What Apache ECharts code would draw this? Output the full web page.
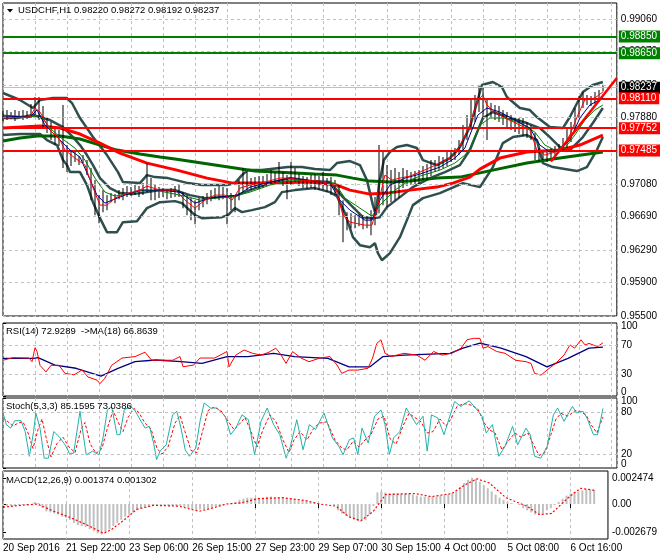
<!DOCTYPE html>
<html><head><meta charset="utf-8">
<script src="https://cdn.jsdelivr.net/npm/echarts@6/dist/echarts.min.js"></script>
<style>html,body{margin:0;padding:0;background:#fff}#c{width:660px;height:560px}</style>
</head><body><div id="c"></div>
<script>
// ---------- data ----------
const symbolName = 'USDCHF,H1';
const lastOHLC = ['0.98220','0.98272','0.98192','0.98237'];
const bidPrice = 0.98237;
const timeTicks = [0,32,64,96,128,160,192,224,256,288];
const timeLabels = ['20 Sep 2016','21 Sep 22:00','23 Sep 06:00','26 Sep 15:00','27 Sep 23:00','29 Sep 07:00','30 Sep 15:00','4 Oct 00:00','5 Oct 08:00','6 Oct 16:00'];
const priceTicks = ['0.95500','0.95900','0.96290','0.96690','0.97080','0.97480','0.97880','0.98270','0.98670','0.99060'];
const greenLevels = [0.98850, 0.98650];
const redLevels = [0.98110, 0.97752, 0.97485];
const rsiTicks = [0, 30, 70, 100];
const rsiLevels = [30, 70];
const stochTicks = [0, 20, 80, 100];
const stochLevels = [20, 80];
const macdTicks = [-0.002679, 0, 0.002474];
const rsiTitle = 'RSI(14) 72.9289  ->MA(18) 66.8639';
const stochTitle = 'Stoch(5,3,3) 85.1595 73.0386';
const macdTitle = 'MACD(12,26,9) 0.001374 0.001302';

// one bar every 2 hours: [low, high]
const bars = [
[0.97837,0.97957],[0.97849,0.97969],[0.97861,0.97945],[0.97837,0.97969],[0.97873,0.97957],
[0.97849,0.97969],[0.97861,0.97957],[0.97873,0.98041],[0.97909,0.98125],[0.97849,0.98125],
[0.97753,0.98017],[0.97693,0.97873],[0.97609,0.97825],[0.97549,0.97753],[0.97537,0.97729],
[0.97273,0.98029],[0.97225,0.97549],[0.97297,0.97489],[0.97345,0.97465],[0.97309,0.97417],
[0.97333,0.97429],[0.97189,0.97369],[0.96889,0.97273],[0.96709,0.97129],[0.96613,0.96949],
[0.96745,0.97009],[0.96769,0.96949],[0.96865,0.96973],[0.96853,0.96961],[0.96901,0.97009],
[0.96889,0.97033],[0.96925,0.97057],[0.96937,0.97045],[0.96949,0.97069],[0.96925,0.97057],
[0.96949,0.97093],[0.96985,0.97333],[0.96889,0.97153],[0.96889,0.97069],[0.96913,0.97045],
[0.96925,0.97033],[0.96901,0.97021],[0.96913,0.97033],[0.96925,0.97057],[0.96925,0.97081],
[0.96793,0.96985],[0.96709,0.96949],[0.96649,0.96913],[0.96601,0.96889],[0.96769,0.96913],
[0.96805,0.96937],[0.96841,0.96973],[0.96877,0.97009],[0.96901,0.97033],[0.96889,0.97057],
[0.96901,0.97045],[0.96601,0.97033],[0.96769,0.96973],[0.96745,0.96949],[0.96889,0.97129],
[0.96985,0.97273],[0.97009,0.97225],[0.97009,0.97153],[0.97033,0.97165],[0.97021,0.97177],
[0.97033,0.97177],[0.97057,0.97201],[0.97081,0.97249],[0.97093,0.97225],[0.97105,0.97345],
[0.97057,0.97225],[0.96901,0.97189],[0.97069,0.97345],[0.97105,0.97273],[0.97057,0.97201],
[0.97033,0.97177],[0.97021,0.97165],[0.97033,0.97189],[0.97009,0.97201],[0.97009,0.97177],
[0.97009,0.97225],[0.96985,0.97153],[0.96949,0.97165],[0.96949,0.97129],[0.96709,0.97069],
[0.96385,0.96889],[0.96529,0.96745],[0.96553,0.96733],[0.96553,0.96709],[0.96577,0.96721],
[0.96541,0.96709],[0.96553,0.96697],[0.96469,0.96769],[0.96589,0.96925],[0.96733,0.97549],
[0.96829,0.97489],[0.96805,0.97309],[0.96865,0.97249],[0.96889,0.97273],[0.96913,0.97225],
[0.97033,0.97273],[0.97057,0.97249],[0.97069,0.97225],[0.97081,0.97237],[0.97069,0.97249],
[0.97129,0.97297],[0.97129,0.97321],[0.97177,0.97369],[0.97225,0.97369],[0.97249,0.97417],
[0.97273,0.97405],[0.97297,0.97465],[0.97345,0.97489],[0.97369,0.97513],[0.97429,0.97609],
[0.97489,0.97789],[0.97609,0.97909],[0.97729,0.98089],[0.97825,0.98149],[0.97945,0.98269],
[0.97873,0.98233],[0.97609,0.98089],[0.97873,0.98053],[0.97849,0.98029],[0.97825,0.98017],
[0.97789,0.97969],[0.97753,0.97945],[0.97729,0.97909],[0.97705,0.97885],[0.97681,0.97873],
[0.97657,0.97873],[0.97633,0.97825],[0.97609,0.97789],[0.97369,0.97693],[0.97345,0.97513],
[0.97369,0.97489],[0.97345,0.97465],[0.97393,0.97513],[0.97429,0.97537],[0.97465,0.97561],
[0.97489,0.97633],[0.97513,0.97753],[0.97585,0.97825],[0.97729,0.97993],[0.97873,0.98137],
[0.97993,0.98185],[0.98029,0.98149],[0.98017,0.98137],[0.98041,0.98185],[0.98065,0.98209],
[0.98192,0.98272]
];

// lines: [hour index, price]
const fastMA = [[0,0.97873],[13.5,0.97885],[16,0.97993],[18.5,0.97945],[23.5,0.97729],[28.5,0.97609],[31,0.97489],[36,0.97393],[41,0.97309],[44.5,0.97069],[48.5,0.96829],[52,0.96829],[56,0.96913],[61,0.96961],[68.5,0.97009],[72,0.97057],[78.5,0.97009],[86,0.97009],[91,0.96889],[96,0.96793],[101,0.96889],[106,0.96949],[111,0.96949],[114.5,0.96889],[118.5,0.97033],[123.5,0.97069],[131,0.97105],[138.5,0.97153],[143.5,0.97153],[148.5,0.97129],[158.5,0.97117],[166,0.97069],[170,0.96709],[173.5,0.96625],[181,0.96589],[184.5,0.96589],[187.5,0.96829],[191,0.97189],[194.5,0.97129],[198.5,0.97153],[203.5,0.97177],[208.5,0.97225],[218.5,0.97333],[226,0.97429],[230,0.97609],[233.5,0.97789],[237.5,0.98089],[240,0.98149],[242,0.98029],[246,0.97945],[251,0.97873],[258.5,0.97789],[263.5,0.97729],[267,0.97489],[271,0.97429],[276,0.97465],[280,0.97537],[283.5,0.97669],[287.5,0.97909],[291,0.98089],[296,0.98113],[300,0.98185]];
const navyMA = [[0,0.97897],[13.5,0.97885],[17,0.97969],[21,0.97789],[28.5,0.97609],[33.5,0.97489],[38.5,0.97405],[42.5,0.97189],[47,0.96949],[51,0.96853],[54.5,0.96889],[61,0.96949],[68.5,0.97009],[78.5,0.97009],[88.5,0.96985],[96,0.96853],[103.5,0.96913],[112.5,0.96937],[117.5,0.96949],[123.5,0.97045],[133.5,0.97105],[143.5,0.97153],[156,0.97117],[163.5,0.97093],[168.5,0.96889],[173.5,0.96769],[181,0.96649],[184.5,0.96649],[188.5,0.96889],[193.5,0.97069],[201,0.97153],[208.5,0.97201],[218.5,0.97285],[226,0.97393],[231,0.97513],[233.5,0.97669],[237.5,0.97909],[242,0.97993],[248.5,0.97945],[256,0.97849],[263.5,0.97753],[268.5,0.97549],[273.5,0.97465],[278.5,0.97489],[283.5,0.97609],[288.5,0.97873],[293.5,0.98029],[300,0.98113]];
const greenMA = [[0,0.97909],[13.5,0.97885],[18.5,0.97909],[23.5,0.97753],[28.5,0.97645],[36,0.97513],[41,0.97369],[46,0.97153],[51,0.96985],[56,0.96937],[63.5,0.96973],[71,0.97009],[78.5,0.96997],[91,0.96937],[98.5,0.96889],[106,0.96913],[116,0.96937],[123.5,0.96985],[133.5,0.97069],[143.5,0.97129],[156,0.97117],[166,0.97093],[171,0.96913],[178.5,0.96793],[184.5,0.96697],[188.5,0.96829],[196,0.97009],[203.5,0.97129],[208.5,0.97177],[218.5,0.97249],[226,0.97333],[231,0.97429],[233.5,0.97513],[238.5,0.97789],[243.5,0.97873],[251,0.97873],[258.5,0.97813],[266,0.97705],[271,0.97549],[276,0.97489],[281,0.97513],[286,0.97669],[291,0.97849],[296,0.97969],[300,0.98029]];
const slowRedMA = [[0,0.97753],[18.5,0.97777],[28.5,0.97753],[38.5,0.97681],[48.5,0.97573],[58.5,0.97453],[72,0.97333],[87,0.97249],[102,0.97153],[115,0.97093],[133.5,0.97093],[153.5,0.97105],[167,0.97069],[173.5,0.97009],[183.5,0.96961],[192,0.96973],[203.5,0.97009],[217,0.97045],[225,0.97093],[233.5,0.97165],[238.5,0.97261],[248.5,0.97393],[262,0.97465],[278.5,0.97489],[288.5,0.97549],[300,0.97669]];
const slowGreenMA = [[0,0.97597],[8.5,0.97633],[17,0.97657],[28.5,0.97657],[38.5,0.97621],[48.5,0.97549],[57,0.97489],[68.5,0.97441],[78.5,0.97405],[86,0.97381],[96,0.97345],[106,0.97309],[116,0.97273],[126,0.97237],[136,0.97225],[146,0.97213],[156,0.97201],[167,0.97189],[175,0.97153],[183.5,0.97117],[193.5,0.97105],[203.5,0.97117],[217,0.97153],[228.5,0.97165],[245,0.97249],[262,0.97333],[278.5,0.97393],[300,0.97465]];
const bandUpper = [[0,0.98173],[8.5,0.98089],[15,0.97993],[18.5,0.98089],[25,0.98113],[32,0.98113],[34.5,0.98053],[38.5,0.97873],[45,0.97645],[52,0.97429],[57.5,0.97225],[60,0.97105],[68.5,0.97093],[72,0.97189],[76,0.97165],[82.5,0.97153],[92.5,0.97093],[99.5,0.97069],[112,0.97069],[116,0.97093],[119.5,0.97189],[122.5,0.97249],[129.5,0.97249],[142.5,0.97285],[149.5,0.97285],[156,0.97261],[163.5,0.97249],[167,0.97333],[173.5,0.97357],[178.5,0.97309],[182,0.97129],[185,0.96829],[186.5,0.96709],[188,0.97069],[190.5,0.97369],[193.5,0.97465],[197,0.97525],[202,0.97549],[207,0.97513],[210,0.97369],[217,0.97309],[223.5,0.97393],[228.5,0.97525],[233.5,0.97765],[237,0.98053],[239.5,0.98269],[245,0.98305],[249.5,0.98245],[252,0.98125],[258.5,0.97993],[263.5,0.97969],[267,0.97885],[273.5,0.97765],[280,0.97753],[283.5,0.97885],[290,0.98185],[295,0.98269],[300,0.98305]];
const bandMiddle = [[0,0.97873],[7,0.97873],[15,0.97909],[23.5,0.97849],[30,0.97765],[35,0.97645],[38.5,0.97549],[42,0.97429],[45,0.97309],[48.5,0.97153],[53.5,0.97033],[58.5,0.96973],[65,0.96961],[72,0.96985],[78.5,0.97009],[86,0.97009],[93.5,0.96949],[101,0.96913],[108.5,0.96925],[116,0.96937],[123.5,0.97009],[133.5,0.97093],[143.5,0.97153],[153.5,0.97117],[163.5,0.97105],[170,0.96925],[175,0.96805],[180,0.96685],[184.5,0.96673],[188.5,0.96685],[192,0.96805],[198.5,0.96925],[205,0.97045],[213.5,0.97153],[221,0.97225],[228.5,0.97309],[233.5,0.97489],[240,0.97873],[245,0.97945],[253.5,0.97873],[262,0.97813],[268.5,0.97753],[273.5,0.97645],[278.5,0.97525],[283.5,0.97489],[290,0.97645],[295,0.97813],[300,0.97993]];
const bandLower = [[0,0.97669],[8.5,0.97681],[18.5,0.97681],[22,0.97609],[27,0.97549],[30,0.97369],[32,0.97309],[33.5,0.97225],[38.5,0.97225],[42,0.97069],[45,0.96865],[48.5,0.96673],[52,0.96505],[57,0.96505],[60,0.96625],[67,0.96637],[72,0.96793],[78.5,0.96865],[86,0.96877],[89.5,0.96853],[96,0.96709],[99.5,0.96673],[109.5,0.96685],[112.5,0.96709],[116,0.96793],[119.5,0.96745],[124.5,0.96769],[131,0.96805],[136,0.96865],[139.5,0.96985],[146,0.97009],[156,0.97033],[163.5,0.96985],[167,0.96937],[171,0.96733],[175,0.96445],[178.5,0.96349],[183.5,0.96325],[186,0.96373],[187.5,0.96253],[189.5,0.96169],[193.5,0.96253],[198.5,0.96445],[202,0.96649],[205,0.96829],[210,0.96913],[218.5,0.96973],[230,0.97093],[238.5,0.97045],[245,0.97285],[250,0.97573],[255,0.97645],[262,0.97669],[267,0.97609],[270,0.97333],[275,0.97285],[287,0.97237],[292,0.97285],[297,0.97489],[300,0.97645]];
const trendLine = [[274,0.97352],[307,0.98353]];

// RSI(14) and its MA: [hour index, value]
const rsi = [[0,49],[5,52.5],[13,52],[14.5,47],[16,66],[17,61],[18.5,42],[21.5,33],[24,42],[28,42],[31,31],[35.5,29],[39.5,35.5],[42.5,26],[47,21.7],[48.5,17],[51,24.5],[54.3,42],[59.5,52],[66,54],[71,60],[74.3,49],[79.5,49],[84.8,49],[88.5,54],[90,40],[95.3,42.4],[98.5,52],[105.8,52],[112,61],[113,40],[116.4,56],[120.5,63],[124.8,58.5],[129,56],[133,60],[136.4,65.5],[138.5,58.5],[141.5,44.7],[144.8,60.8],[149,52],[153,47],[158.5,52],[163.5,54],[167,42.4],[169.4,31],[173,35.5],[177.4,35.5],[182.5,38],[184.8,52],[186.9,72],[189,77],[191,58.5],[194,54],[200.5,58.5],[206.9,56],[211,49],[215.3,61],[219.5,56],[224.5,58.5],[229,65.5],[232,77],[235.3,79],[238.5,79],[240,65.5],[242.5,67.7],[246.8,61],[251,58.5],[256.3,49],[261.5,47],[264,44.7],[265.8,31],[269,28.6],[272,35.5],[276.3,44.7],[280.5,56],[283.5,70],[285.8,65.5],[289,77],[291,70],[293,72],[297.3,67.7],[300,72.93]];
const rsiMA = [[0,51.6],[15.4,51.6],[17.5,52.5],[26,42.4],[36.5,38],[49,27.2],[57.5,37.8],[66,47],[76.5,49.3],[89,47],[99.5,44.7],[112,54],[122.5,54],[135.3,58.5],[145.8,54],[162.5,51.6],[173,40],[183.5,40],[190,54],[200.5,56],[223.5,58.5],[230,65.5],[238.5,72.3],[249,65.5],[261.5,54],[272,40],[282.5,51.6],[293,65.5],[300,66.86]];

// Stochastic(5,3,3)
const stochMain = [[0,78.6],[1.7,62],[3.8,57],[5.9,67.6],[9,67.6],[11.1,52],[13.2,16.7],[15.3,52],[16.4,78.6],[18.5,57],[20.6,14],[22.7,14],[25.4,52],[28,45],[31.1,33],[33.2,21],[35.3,21],[38.5,81],[39.5,59.5],[41.6,19],[44.8,24],[48,19],[50,43],[52.2,83],[54.3,88],[57,47.6],[58.5,47.6],[60.6,83],[63.7,88],[65.8,83],[69,66.7],[71.1,57],[73.2,59.5],[75.3,35.7],[76.8,12],[78.5,24],[81.6,33],[84.8,76],[86.9,81],[89,57],[91.1,26],[93.2,16.7],[96.4,28.6],[98.5,66.7],[100.6,93],[103.7,85.7],[106.9,85.7],[111.1,74],[113.8,47.6],[116.4,57],[119.5,76],[122.7,69],[125.8,19],[129,66.7],[132.1,85.7],[135.3,62],[138.4,47.6],[141.6,14],[143.7,31],[146.9,69],[150,26],[153.2,62],[156.3,55],[160.5,78.6],[164.7,43],[167.9,31],[170,19],[173.2,40.5],[175.3,43],[177.4,19],[179.5,57],[182.6,35.7],[185.8,74],[189,83],[191,62],[193.2,19],[195.3,43],[198.4,52],[201.6,85.7],[203.7,76],[206.8,62],[210,74],[212.1,24],[214.2,76],[217.4,71.4],[220.5,47.6],[222.6,66.7],[225.8,95],[228.9,88],[233.1,96],[236.3,85.7],[239.5,74],[241.6,50],[244.7,62],[247.9,16.7],[251,31],[254.8,59.5],[257.3,33],[261.5,57],[263.6,47.6],[265.8,16.7],[268.9,14],[272.1,31],[275.2,76],[277.3,85.7],[280.5,66.7],[284.7,88],[286.8,78.6],[290,81],[292,71.4],[295.2,47.6],[297.3,47.6],[300,85.16]];
const stochSignal = [[0,72],[2.5,66],[5,60],[7.5,64],[10,66],[12.5,50],[15,28],[17.5,55],[19.5,70],[22,38],[24,16],[27,35],[30,44],[33,30],[36,22],[39,55],[41,65],[43.5,35],[46.5,21],[49.5,28],[52,55],[55,82],[58,63],[60,52],[62.5,72],[65.5,85],[68,79],[71,64],[74,56],[77,28],[79.5,20],[82.5,30],[86,64],[88.5,75],[91,52],[94,25],[97,22],[100,55],[102.5,82],[105.5,87],[109,82],[113,65],[115.5,55],[118,62],[121,72],[124,52],[127,30],[130,55],[133.5,76],[136.5,66],[140,40],[143,22],[145.5,40],[148.5,52],[152,40],[155,55],[158,64],[162,66],[166,40],[169.5,28],[172,26],[175,38],[178,30],[181,40],[184,48],[187.5,70],[190.5,74],[193.5,42],[196.5,34],[200,60],[203,78],[206,72],[209,66],[212,50],[215,52],[218.5,70],[221.5,60],[224,70],[227,88],[230.5,92],[234,90],[237.5,84],[240.5,65],[243,55],[246,50],[249.5,26],[252.5,38],[256,50],[259,44],[262.5,50],[265,35],[268,18],[271,22],[274,48],[276.5,70],[279,78],[282.5,74],[286,82],[289,80],[291.5,76],[294,62],[297,50],[300,73.04]];

// MACD(12,26,9) histogram, one value every 2 hours, and signal line
const macdHist = [
-0.0002,-0.0002,-0.0002,-0.0002,-0.0001,-0.0001,-0.0001,0,0.0002,0.0001,
-0.0004,-0.0007,-0.0008,-0.0009,-0.0010,-0.0012,-0.0013,-0.0015,-0.0018,-0.0020,
-0.0021,-0.0022,-0.0024,-0.0026,-0.0028,-0.0029,-0.0027,-0.0024,-0.0021,-0.0018,
-0.0015,-0.0012,-0.0010,-0.0008,-0.0006,-0.0004,-0.0003,-0.0002,-0.0001,-0.0001,
-0.0001,-0.0002,-0.0002,-0.0002,-0.0002,-0.0002,-0.0003,-0.0004,-0.0005,-0.0006,
-0.0005,-0.0005,-0.0004,-0.0003,-0.0002,-0.0002,-0.0001,0,0.0001,0.0002,
0.0004,0.0005,0.0006,0.0006,0.0006,0.0006,0.0006,0.0007,0.0007,0.0006,
0.0006,0.0006,0.0005,0.0005,0.0004,0.0003,0.0003,0.0003,0.0002,0.0002,
0.0001,0,0,0,-0.0001,-0.0006,-0.0009,-0.0011,-0.0013,-0.0015,
-0.0016,-0.0016,-0.0015,-0.0010,-0.0002,0.0011,0.0012,0.0011,0.0010,0.0010,
0.0010,0.0010,0.0010,0.0010,0.0009,0.0008,0.0007,0.0007,0.0007,0.0007,
0.0007,0.0008,0.0008,0.0009,0.0010,0.0012,0.0016,0.0020,0.0023,0.0025,
0.0024,0.0021,0.0018,0.0015,0.0012,0.0009,0.0006,0.0004,0.0002,0.0001,
0,-0.0001,-0.0004,-0.0006,-0.0008,-0.0010,-0.0010,-0.0009,-0.0006,-0.0004,
-0.0001,0.0002,0.0005,0.0008,0.0010,0.0011,0.0012,0.0013,0.0014,0.0014,
0.001374
];
const macdSignal = [[0,-0.0003],[9,-0.00013],[17.4,0],[25.9,-0.0007],[34.3,-0.0013],[42.7,-0.002],[51.1,-0.0028],[55.3,-0.0024],[61.6,-0.0015],[67.9,-0.0005],[76.4,-0.00013],[89,-0.0002],[99.5,-0.0007],[107.9,-0.0003],[113.2,0],[120.6,0.0001],[129,0.0005],[141.6,0.0006],[154.2,0.0003],[160.5,0],[169,-0.0002],[175.3,-0.0012],[181.6,-0.0016],[187.9,-0.0007],[194.2,0.0009],[209,0.001],[217.4,0.0007],[227.9,0.001],[234.2,0.0018],[240.5,0.0024],[246.8,0.002],[255.2,0.0006],[265.8,-0.0002],[272.1,-0.001],[278.4,-0.0009],[286.8,0.0006],[293.1,0.0015],[300,0.001302]];

// ---------- chart ----------
const HOURS_PER_BAR = 2;
const F = '"Liberation Sans", Arial, sans-serif';
const FS = 10;
const TFS = 9.5;
const chart = echarts.init(document.getElementById('c'));

function xAxisFor(gi, withLabels) {
  return {
    type: 'value', gridIndex: gi, min: 0, max: 307, interval: 16,
    axisLine: { show: false },
    axisTick: withLabels ? { show: true, customValues: timeTicks, length: 4, lineStyle: { color: '#000' } } : { show: false },
    axisLabel: withLabels ? {
      show: true, customValues: timeTicks, align: 'left', margin: 4, color: '#000', fontSize: FS, fontFamily: F,
      formatter: v => { const i = timeTicks.indexOf(v); return i >= 0 ? timeLabels[i] : ''; }
    } : { show: false },
    splitLine: { show: true, lineStyle: { color: '#c0c0c0', type: [3, 3], width: 1 } }
  };
}
function yAxisFor(gi, min, max, ticks, fmt, edgeAlign) {
  const lab = { show: true, customValues: ticks, formatter: fmt, margin: 4, color: '#000', fontSize: FS, fontFamily: F,
    showMinLabel: true, showMaxLabel: true, lineHeight: 7 };
  if (edgeAlign) { lab.verticalAlignMinLabel = 'bottom'; lab.verticalAlignMaxLabel = 'top'; }
  return {
    type: 'value', gridIndex: gi, position: 'right', min: min, max: max,
    axisLine: { show: false }, splitLine: { show: false },
    axisTick: { show: true, customValues: ticks, length: 3, lineStyle: { color: '#000' } },
    axisLabel: lab
  };
}
const gridBase = { left: 3, width: 614, show: true, borderColor: '#000', borderWidth: 1, backgroundColor: '#fff', containLabel: false };
const dashed = { color: '#c0c0c0', type: [3, 3], width: 1 };
function lineS(data, color, width, z, xi, extra) {
  return Object.assign({ type: 'line', data: data, xAxisIndex: xi || 0, yAxisIndex: xi || 0, showSymbol: false, symbol: 'none',
    lineStyle: { color: color, width: width }, z: z, silent: true, animation: false }, extra || {});
}
function levelLine(v, bg, lineColor, lineWidth) {
  return { yAxis: v, lineStyle: { color: lineColor, width: lineWidth, type: 'solid' },
    label: { show: true, position: 'end', distance: 2, formatter: v.toFixed(5), backgroundColor: bg, color: '#fff',
      padding: [1, 3, 0, 2], fontSize: FS, fontFamily: F, lineHeight: 11 } };
}
function levelsMark(values) {
  return { silent: true, symbol: 'none', precision: 8, label: { show: false }, lineStyle: dashed, data: values.map(v => ({ yAxis: v })) };
}

const priceTickVals = priceTicks.map(Number);
const option = {
  animation: false,
  backgroundColor: '#fff',
  grid: [
    Object.assign({ top: 3, height: 313 }, gridBase),
    Object.assign({ top: 323, height: 73 }, gridBase),
    Object.assign({ top: 398, height: 70 }, gridBase),
    Object.assign({ top: 471, height: 68 }, gridBase)
  ],
  xAxis: [xAxisFor(0, false), xAxisFor(1, false), xAxisFor(2, false), xAxisFor(3, true)],
  yAxis: [
    yAxisFor(0, 0.955, 0.99252, priceTickVals, v => v.toFixed(5), false),
    yAxisFor(1, 0, 100, rsiTicks, v => String(v), true),
    yAxisFor(2, 0, 100, stochTicks, v => String(v), true),
    yAxisFor(3, -0.00333, 0.00314, macdTicks, v => v === 0 ? '0.00' : v.toFixed(6), false)
  ],
  graphic: [
    { type: 'polygon', z: 100, shape: { points: [[7, 9], [13, 9], [10, 12.5]] }, style: { fill: '#000' } },
    { type: 'text', z: 100, style: { x: 18, y: 10.5, text: symbolName + ' ' + lastOHLC.join(' '), font: TFS + 'px ' + F, fill: '#000', verticalAlign: 'middle' } },
    { type: 'text', z: 100, style: { x: 6, y: 331, text: rsiTitle, font: TFS + 'px ' + F, fill: '#000', verticalAlign: 'middle' } },
    { type: 'text', z: 100, style: { x: 6, y: 406.5, text: stochTitle, font: TFS + 'px ' + F, fill: '#000', verticalAlign: 'middle' } },
    { type: 'text', z: 100, style: { x: 6, y: 480, text: macdTitle, font: TFS + 'px ' + F, fill: '#000', verticalAlign: 'middle' } }
  ],
  series: [
    lineS(bandUpper, '#2f4f4f', 2.5, 2, 0, { markLine: levelsMark(priceTickVals) }),
    lineS(bandMiddle, '#2f4f4f', 2.5, 2),
    lineS(bandLower, '#2f4f4f', 2.5, 2),
    lineS(slowGreenMA, '#006400', 3, 3),
    lineS(slowRedMA, '#ff0000', 3, 3),
    {
      type: 'candlestick', xAxisIndex: 0, yAxisIndex: 0, z: 4, silent: true, animation: false, barWidth: 2,
      encode: { x: 0, y: [1, 2, 3, 4] },
      itemStyle: { color: '#000', color0: '#000', borderColor: '#000', borderColor0: '#000', borderWidth: 0 },
      data: bars.map((b, i) => [i * HOURS_PER_BAR, b[0], b[1], b[0], b[1]])
    },
    lineS(greenMA, '#008000', 1, 5),
    lineS(navyMA, '#000080', 1, 5),
    lineS(fastMA, '#ff0000', 1, 5),
    lineS(trendLine, '#ff0000', 2.5, 6, 0, {
      markLine: { silent: true, symbol: 'none', precision: 8,
        data: [levelLine(bidPrice, '#000', '#c0c0c0', 1)]
          .concat(greenLevels.map(v => levelLine(v, '#008000', '#008000', 2)))
          .concat(redLevels.map(v => levelLine(v, '#ff0000', '#ff0000', 2))) } }),
    // RSI
    lineS(rsiMA, '#000080', 1.3, 3, 1),
    lineS(rsi, '#ff0000', 1, 4, 1, { markLine: levelsMark(rsiLevels) }),
    // Stochastic
    lineS(stochSignal, '#ff0000', 1, 3, 2, { lineStyle: { color: '#ff0000', width: 1, type: [3, 2] } }),
    lineS(stochMain, '#20b2aa', 1, 4, 2, { markLine: levelsMark(stochLevels) }),
    // MACD
    { type: 'bar', xAxisIndex: 3, yAxisIndex: 3, barWidth: 2, z: 3, silent: true, animation: false,
      itemStyle: { color: '#c0c0c0' }, data: macdHist.map((v, i) => [i * HOURS_PER_BAR, v]) },
    lineS(macdSignal, '#ff0000', 1.2, 4, 3, { lineStyle: { color: '#ff0000', width: 1.2, type: [2, 2] } })
  ]
};
chart.setOption(option);
</script>
</body></html>
